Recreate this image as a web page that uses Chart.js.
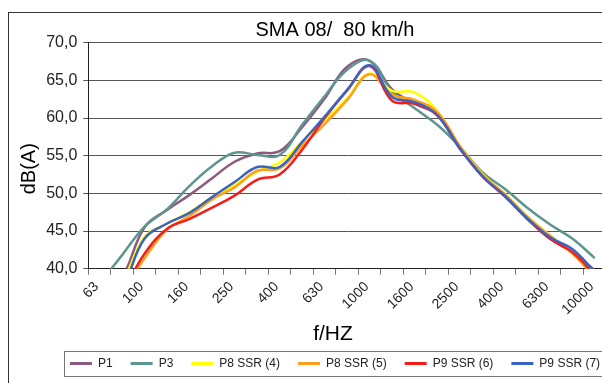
<!DOCTYPE html>
<html>
<head>
<meta charset="utf-8">
<title>SMA 08/ 80 km/h</title>
<script src="https://cdn.jsdelivr.net/npm/chart.js@4"></script>
<style>
    html, body { margin: 0; padding: 0; background: #fff; overflow: hidden; }
    #wrap { position: absolute; left: 0; top: 0; }
</style>
</head>
<body>
<div id="wrap"><canvas id="chart" width="670" height="400"></canvas></div>
<script>
// third-octave band centres (Hz)
const freqs = ["63", "80", "100", "125", "160", "200", "250", "315", "400", "500", "630", "800",
    "1000", "1250", "1600", "2000", "2500", "3150", "4000", "5000", "6300", "8000", "10000"];

const seriesNames = ["P1", "P3", "P8 SSR (4)", "P8 SSR (5)", "P9 SSR (6)", "P9 SSR (7)"];

// levels in dB(A), one per band
const p1 = [35.5, 38.8, 45.5, 47.8, 49.8, 52.0, 54.2, 55.3, 55.6, 58.8, 62.6, 66.8,
    67.6, 63.8, 61.9, 60.4, 56.0, 52.5, 49.8, 46.8, 44.0, 42.2, 39.8];
const p3 = [38.0, 41.8, 45.6, 47.9, 51.0, 53.6, 55.4, 55.1, 55.1, 59.1, 62.9, 66.4,
    67.6, 63.5, 61.3, 59.1, 56.2, 52.8, 50.6, 48.1, 45.9, 44.0, 41.4];
const p8ssr4 = [35.5, 38.3, 44.2, 46.0, 47.5, 49.5, 51.1, 52.9, 54.1, 56.9, 59.7, 62.6,
    65.9, 63.6, 63.4, 60.9, 56.3, 52.6, 49.9, 46.9, 44.4, 42.2, 39.4];
const p8ssr5 = [34.0, 37.0, 41.4, 45.2, 47.0, 49.2, 50.8, 53.0, 53.3, 56.3, 59.2, 62.4,
    65.8, 63.1, 62.4, 60.8, 56.3, 52.5, 49.9, 46.9, 44.4, 42.0, 38.9];
const p9ssr6 = [34.0, 37.0, 42.0, 45.3, 46.6, 48.1, 49.7, 51.8, 52.5, 55.8, 60.0, 63.7,
    66.9, 62.3, 61.9, 60.4, 56.0, 52.3, 49.6, 46.6, 44.0, 42.2, 39.2];
const p9ssr7 = [34.5, 37.5, 44.0, 46.0, 47.4, 49.5, 51.5, 53.5, 53.5, 56.8, 60.2, 63.7,
    67.0, 62.8, 62.1, 60.4, 56.0, 52.3, 49.7, 46.7, 44.2, 42.6, 39.6];

const yTicks = [40, 45, 50, 55, 60, 65, 70];

const colors = ["#8c5a7c", "#5f958f", "#ffff00", "#ffa01c", "#f51c1c", "#3a63c2"];
const values = [p1, p3, p8ssr4, p8ssr5, p9ssr6, p9ssr7];

const FONT = "'Liberation Sans', Arial, sans-serif";

// white page, chart frame, axis titles and legend box
const decorations = {
    id: "decorations",
    beforeDraw(chart) {
        const ctx = chart.ctx;
        ctx.save();
        ctx.fillStyle = "#fff";
        ctx.fillRect(0, 0, chart.width, chart.height);
        ctx.strokeStyle = "#333";
        ctx.lineWidth = 1;
        ctx.strokeRect(8.5, 12.5, 653, 420);
        ctx.restore();
    },
    afterDraw(chart) {
        const ctx = chart.ctx;
        const area = chart.chartArea;
        ctx.save();
        ctx.fillStyle = "#000";

        ctx.font = "20px " + FONT;
        ctx.textAlign = "center";
        ctx.textBaseline = "middle";
        ctx.translate(29, (area.top + area.bottom) / 2 + 13);
        ctx.rotate(-Math.PI / 2);
        ctx.fillText("dB(A)", 0, 0);
        ctx.setTransform(1, 0, 0, 1, 0, 0);

        ctx.font = "21px " + FONT;
        ctx.textBaseline = "alphabetic";
        ctx.fillText("f/HZ", 333, 340);

        const boxes = chart.legend.legendHitBoxes;
        if (boxes.length) {
            const left = Math.min(...boxes.map(b => b.left)) - 6;
            const right = Math.max(...boxes.map(b => b.left + b.width)) + 7;
            const top = boxes[0].top - 6.5;
            const bottom = boxes[0].top + boxes[0].height + 6.5;
            ctx.strokeStyle = "#777";
            ctx.lineWidth = 1;
            ctx.strokeRect(Math.round(left) + 0.5, Math.round(top) + 0.5,
                Math.round(right - left), Math.round(bottom - top));
        }
        ctx.restore();
    }
};

const datasets = seriesNames.map((name, i) => ({
    label: name,
    data: values[i],
    borderColor: colors[i],
    backgroundColor: colors[i],
    borderWidth: 2.5,
    pointRadius: 0,
    tension: 0.4,
    fill: false,
    order: seriesNames.length - i
}));

new Chart(document.getElementById("chart"), {
    type: "line",
    data: { labels: freqs, datasets: datasets },
    plugins: [decorations],
    options: {
        responsive: false,
        animation: false,
        devicePixelRatio: 1,
        layout: { padding: { left: 8, right: 8, top: 12, bottom: 20.5 } },
        plugins: {
            title: {
                display: true,
                text: "SMA 08/  80 km/h",
                color: "#000",
                font: { family: FONT, size: 20, weight: "normal" },
                padding: { top: 6.5, bottom: 0.2 }
            },
            legend: {
                position: "bottom",
                labels: {
                    color: "#222",
                    font: { family: FONT, size: 12 },
                    boxWidth: 22,
                    boxHeight: 3,
                    padding: 18,
                    sort: (a, b) => a.datasetIndex - b.datasetIndex,
                    generateLabels: chart =>
                        Chart.defaults.plugins.legend.labels.generateLabels(chart)
                            .map(item => ({ ...item, lineWidth: 0 }))
                }
            },
            tooltip: { enabled: false }
        },
        scales: {
            x: {
                type: "category",
                offset: true,
                grid: { offset: true, drawOnChartArea: false, drawTicks: true, tickLength: 6, color: "#777" },
                border: { display: true, color: "#222", width: 1 },
                ticks: {
                    autoSkip: false,
                    minRotation: 45,
                    maxRotation: 45,
                    padding: 4,
                    labelOffset: -3,
                    color: "#222",
                    font: { family: FONT, size: 14 },
                    callback: (val, i) => (i % 2 === 0 ? freqs[i] : "")
                },
                afterFit: scale => { scale.height = 70.8; }
            },
            y: {
                min: 40,
                max: 70,
                afterBuildTicks: scale => { scale.ticks = yTicks.map(v => ({ value: v })); },
                grid: { color: "#555", tickLength: 5, drawTicks: true },
                border: { display: true, color: "#222", width: 1 },
                ticks: {
                    padding: 6,
                    color: "#222",
                    font: { family: FONT, size: 16 },
                    callback: v => v.toFixed(1).replace(".", ",")
                },
                afterFit: scale => { scale.width = 80.3; }
            },
            spare: {
                type: "linear",
                position: "right",
                display: true,
                grid: { display: false },
                border: { display: false },
                ticks: { display: false },
                afterFit: scale => { scale.width = 56; }
            }
        }
    }
});
</script>
</body>
</html>
